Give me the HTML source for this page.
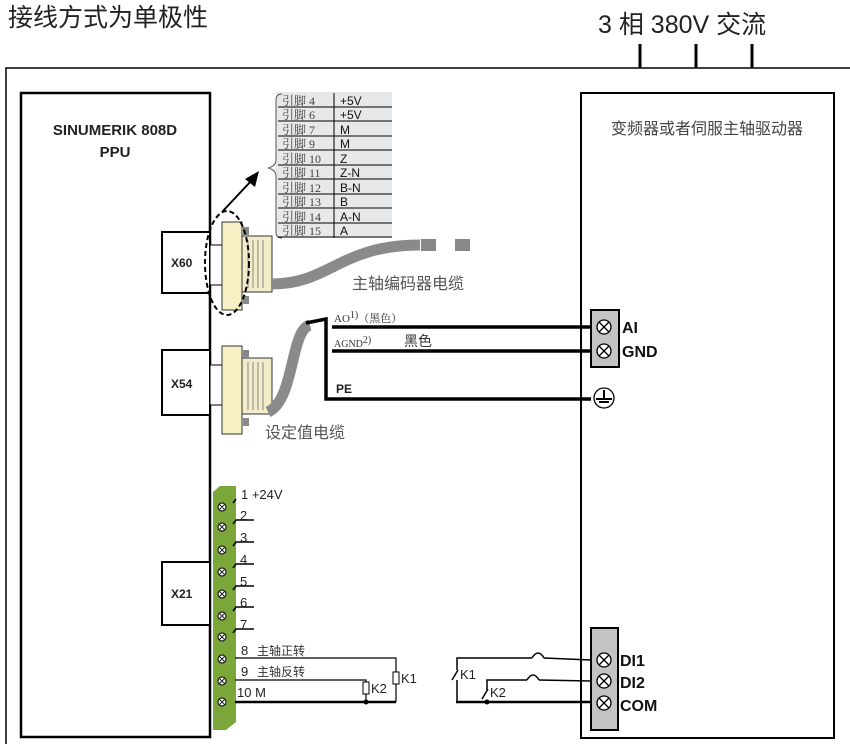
<!DOCTYPE html>
<html><head><meta charset="utf-8"><style>
body{margin:0;background:#fff;}
svg{display:block;}
.cj{font-family:"Liberation Sans","Noto Sans CJK SC",sans-serif;}
.b{font-family:"Liberation Sans",sans-serif;font-weight:bold;}
</style></head><body>
<svg width="850" height="744" viewBox="0 0 850 744" xmlns="http://www.w3.org/2000/svg">
<text x="8" y="26" class="cj" font-size="25" fill="#222">接线方式为单极性</text>
<text x="598" y="33" class="cj" font-size="25" fill="#222">3 相 380V 交流</text>
<g stroke="#000" stroke-width="3"><line x1="640" y1="44" x2="640" y2="68"/><line x1="696" y1="44" x2="696" y2="68"/><line x1="752" y1="44" x2="752" y2="68"/></g>
<polyline points="6,744 6,68 850,68" fill="none" stroke="#000" stroke-width="1.5"/>
<rect x="21" y="93" width="189" height="644" fill="none" stroke="#000" stroke-width="2.5"/>
<text x="115" y="135" text-anchor="middle" class="b" font-size="15" fill="#222">SINUMERIK 808D</text>
<text x="115" y="157" text-anchor="middle" class="b" font-size="15" fill="#222">PPU</text>
<g fill="#fff" stroke="#000" stroke-width="2">
<rect x="162" y="232" width="48" height="61"/><rect x="162" y="350" width="48" height="65"/><rect x="162" y="562" width="48" height="63"/></g>
<g class="b" font-size="12" fill="#222"><text x="171" y="267">X60</text><text x="171" y="388">X54</text><text x="171" y="598">X21</text></g>
<rect x="581" y="93" width="253" height="645" fill="none" stroke="#000" stroke-width="2"/>
<text x="707" y="134" text-anchor="middle" class="cj" font-size="16" fill="#444">变频器或者伺服主轴驱动器</text>
<rect x="276" y="92" width="116" height="146" fill="#e6e8ea"/>
<path d="M282,94 q-6,0 -6,6 v60 q0,6 -8,8 q8,2 8,8 v56 q0,6 6,6" fill="none" stroke="#555" stroke-width="1"/>
<line x1="334" y1="93" x2="334" y2="238" stroke="#000" stroke-width="1"/>
<g stroke="#000" stroke-width="1">
<line x1="278" y1="107" x2="392" y2="107"/><line x1="278" y1="121" x2="392" y2="121"/><line x1="278" y1="136" x2="392" y2="136"/><line x1="278" y1="150" x2="392" y2="150"/><line x1="278" y1="165" x2="392" y2="165"/><line x1="278" y1="179" x2="392" y2="179"/><line x1="278" y1="194" x2="392" y2="194"/><line x1="278" y1="208" x2="392" y2="208"/><line x1="278" y1="223" x2="392" y2="223"/><line x1="278" y1="237" x2="392" y2="237"/></g>
<g font-family="Liberation Serif,Noto Serif CJK SC,serif" font-size="12" fill="#444">
<text x="282" y="105">引脚 4</text><text x="282" y="119">引脚 6</text><text x="282" y="134">引脚 7</text><text x="282" y="148">引脚 9</text><text x="282" y="163">引脚 10</text><text x="282" y="177">引脚 11</text><text x="282" y="192">引脚 12</text><text x="282" y="206">引脚 13</text><text x="282" y="221">引脚 14</text><text x="282" y="235">引脚 15</text></g>
<g font-family="Liberation Sans,sans-serif" font-size="12" fill="#111">
<text x="340" y="105">+5V</text><text x="340" y="119">+5V</text><text x="340" y="134">M</text><text x="340" y="148">M</text><text x="340" y="163">Z</text><text x="340" y="177">Z-N</text><text x="340" y="192">B-N</text><text x="340" y="206">B</text><text x="340" y="221">A-N</text><text x="340" y="235">A</text></g>
<line x1="222" y1="212" x2="252" y2="180" stroke="#000" stroke-width="2"/>
<polygon points="259,171 255,187 245,179" fill="#000"/>
<rect x="210" y="245" width="20" height="40" fill="#fff" stroke="#000"/>
<rect x="222" y="222" width="20" height="88" fill="#f6f0c4" stroke="#333"/>
<rect x="242" y="236" width="30" height="56" fill="#f2ecc8" stroke="#333"/>
<g stroke="#888"><line x1="248" y1="240" x2="248" y2="288"/><line x1="253" y1="240" x2="253" y2="288"/><line x1="258" y1="240" x2="258" y2="288"/><line x1="263" y1="240" x2="263" y2="288"/></g>
<rect x="243" y="227" width="6" height="8" fill="#888"/><rect x="243" y="296" width="6" height="8" fill="#888"/>
<path d="M272,284 C330,284 340,245 420,245" fill="none" stroke="#8a8a8a" stroke-width="11"/>
<rect x="421" y="239" width="15" height="12" fill="#888"/><rect x="455" y="239" width="15" height="12" fill="#888"/>
<ellipse cx="227" cy="263" rx="22" ry="52" fill="none" stroke="#000" stroke-width="2" stroke-dasharray="5,3"/>
<text x="352" y="289" class="cj" font-size="16" fill="#555">主轴编码器电缆</text>
<rect x="210" y="365" width="20" height="40" fill="#fff" stroke="#000"/>
<rect x="222" y="346" width="20" height="88" fill="#f6f0c4" stroke="#333"/>
<rect x="242" y="358" width="30" height="56" fill="#f2ecc8" stroke="#333"/>
<g stroke="#888"><line x1="248" y1="362" x2="248" y2="410"/><line x1="253" y1="362" x2="253" y2="410"/><line x1="258" y1="362" x2="258" y2="410"/><line x1="263" y1="362" x2="263" y2="410"/></g>
<rect x="243" y="350" width="6" height="8" fill="#888"/><rect x="243" y="418" width="6" height="8" fill="#888"/>
<path d="M268,412 C295,400 290,330 310,325" fill="none" stroke="#8a8a8a" stroke-width="11"/>
<text x="265" y="438" class="cj" font-size="16" fill="#555">设定值电缆</text>
<g stroke="#000" stroke-width="3.5" fill="none">
<polyline points="306,323 326,319 326,399 591,399"/>
<line x1="332" y1="327" x2="591" y2="327"/><line x1="332" y1="351" x2="591" y2="351"/></g>
<text x="334" y="322" font-family="Liberation Serif,Noto Serif CJK SC,serif" font-size="11" fill="#333">AO<tspan dy="-4" font-size="10">1)</tspan><tspan dy="4">（黑色）</tspan></text>
<text x="334" y="347" font-family="Liberation Serif,serif" font-size="10" fill="#333">AGND<tspan dy="-4" font-size="10">2)</tspan></text>
<text x="404" y="346" class="cj" font-size="14" fill="#333">黑色</text>
<text x="336" y="393" class="b" font-size="12" fill="#222">PE</text>
<rect x="591" y="310" width="28" height="57" fill="#c4c4c4" stroke="#000" stroke-width="2"/>
<g fill="#fff" stroke="#000" stroke-width="1.3">
<circle cx="604" cy="327" r="7"/><circle cx="604" cy="351" r="7"/><circle cx="604" cy="398" r="10"/></g>
<g stroke="#000" stroke-width="1.3"><path d="M599,322 l10,10 M609,322 l-10,10 M599,346 l10,10 M609,346 l-10,10"/><path d="M604,390 v8 M596,399 h16 M599,402 h10" stroke-width="2"/></g>
<text x="622" y="333" class="b" font-size="16" fill="#111">AI</text>
<text x="622" y="357" class="b" font-size="16" fill="#111">GND</text>
<polygon points="213,492 220,486 236,486 236,722 226,730 213,730" fill="#7aa63a"/>
<g fill="#fff" stroke="#222" stroke-width="1.2">
<circle cx="222" cy="507" r="4"/><circle cx="222" cy="527" r="4"/><circle cx="222" cy="550" r="4"/><circle cx="222" cy="572" r="4"/><circle cx="222" cy="594" r="4"/><circle cx="222" cy="616" r="4"/><circle cx="222" cy="637" r="4"/><circle cx="222" cy="659" r="4"/><circle cx="222" cy="681" r="4"/><circle cx="222" cy="702" r="4"/></g>
<g stroke="#222" stroke-width="1"><path d="M219,504 l6,6 M225,504 l-6,6 M219,524 l6,6 M225,524 l-6,6 M219,547 l6,6 M225,547 l-6,6 M219,569 l6,6 M225,569 l-6,6 M219,591 l6,6 M225,591 l-6,6 M219,613 l6,6 M225,613 l-6,6 M219,634 l6,6 M225,634 l-6,6 M219,656 l6,6 M225,656 l-6,6 M219,678 l6,6 M225,678 l-6,6 M219,699 l6,6 M225,699 l-6,6"/></g>
<g stroke="#000" stroke-width="1.5" fill="none">
<path d="M233,503 l3,-4"/><path d="M233,524 l3,-4 h18"/><path d="M233,546 l3,-4 h18"/><path d="M233,568 l3,-4 h18"/><path d="M233,590 l3,-4 h18"/><path d="M233,611 l3,-4 h18"/><path d="M233,633 l3,-4 h18"/></g>
<g font-family="Liberation Sans,sans-serif" font-size="13" fill="#222">
<text x="241" y="499">1  +24V</text><text x="240" y="520">2</text><text x="240" y="542">3</text><text x="240" y="564">4</text><text x="240" y="586">5</text><text x="240" y="607">6</text><text x="240" y="629">7</text>
<text x="241" y="655">8</text><text x="241" y="676">9</text><text x="237" y="697">10  M</text></g>
<text x="257" y="655" class="cj" font-size="12" fill="#333">主轴正转</text>
<text x="257" y="676" class="cj" font-size="12" fill="#333">主轴反转</text>
<g stroke="#000" stroke-width="1.2" fill="none">
<polyline points="235,658 396,658 396,702"/><polyline points="235,680 366,680 366,702"/></g>
<line x1="235" y1="702" x2="396" y2="702" stroke="#000" stroke-width="2.5"/>
<rect x="393" y="672" width="6" height="12" fill="#fff" stroke="#000"/>
<rect x="363" y="682" width="6" height="12" fill="#fff" stroke="#000"/>
<circle cx="366" cy="702" r="2.5" fill="#000"/>
<g font-family="Liberation Sans,sans-serif" font-size="13" fill="#222"><text x="401" y="683">K1</text><text x="371" y="693">K2</text><text x="460" y="679">K1</text><text x="490" y="697">K2</text></g>
<g stroke="#000" stroke-width="1.5" fill="none">
<polyline points="457,670 457,658 532,658"/><path d="M532,658 q6,-10 12,0"/><line x1="544" y1="658" x2="591" y2="660"/>
<line x1="452" y1="680" x2="458" y2="670"/>
<polyline points="487,690 487,680 527,680"/><path d="M527,680 q6,-10 12,0"/><line x1="539" y1="680" x2="591" y2="681"/>
<line x1="482" y1="699" x2="488" y2="689"/>
<line x1="457" y1="680" x2="457" y2="702"/></g>
<line x1="456" y1="702" x2="591" y2="702" stroke="#000" stroke-width="2.5"/>
<circle cx="487" cy="702" r="2.5" fill="#000"/>
<rect x="591" y="628" width="27" height="102" fill="#c4c4c4" stroke="#000" stroke-width="2"/>
<g fill="#fff" stroke="#000" stroke-width="1.3"><circle cx="604" cy="660" r="7"/><circle cx="604" cy="681" r="7"/><circle cx="604" cy="703" r="7"/></g>
<g stroke="#000" stroke-width="1.3"><path d="M599,655 l10,10 M609,655 l-10,10 M599,676 l10,10 M609,676 l-10,10 M599,698 l10,10 M609,698 l-10,10"/></g>
<text x="620" y="666" class="b" font-size="16" fill="#111">DI1</text>
<text x="620" y="688" class="b" font-size="16" fill="#111">DI2</text>
<text x="620" y="711" class="b" font-size="16" fill="#111">COM</text>
</svg>
</body></html>
